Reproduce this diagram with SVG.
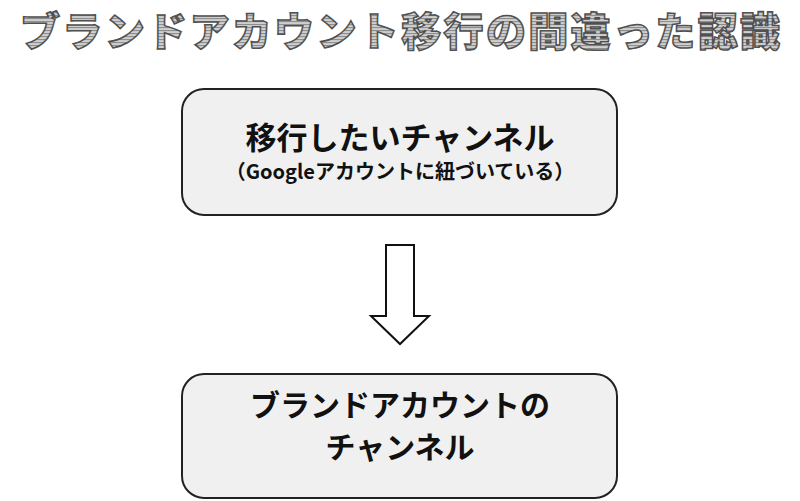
<svg xmlns="http://www.w3.org/2000/svg" width="800" height="501" viewBox="0 0 800 501">
<defs>
<pattern id="stripes" width="4" height="3" patternUnits="userSpaceOnUse">
<rect width="4" height="3" fill="#cfcfcf"/>
<rect width="4" height="1.1" fill="#8e8e8e"/>
</pattern>
</defs>
<style>
.t{font-family:"Noto Sans CJK JP","Noto Sans",sans-serif;font-weight:bold;text-anchor:middle;fill:#111}
.box{fill:#f0f0f0;stroke:#222;stroke-width:2}
.title{font-family:"Noto Sans CJK JP","Noto Sans",sans-serif;font-weight:900;font-size:40px;text-anchor:middle;fill:url(#stripes);stroke:#505050;stroke-width:1.5}
</style>
<rect width="800" height="501" fill="#ffffff"/>
<g id="title"><text class="title" x="400" y="46" textLength="760" lengthAdjust="spacing">ブランドアカウント移行の間違った認識</text></g>
<g id="node1">
<rect class="box" x="182" y="89" width="435" height="126" rx="22"/>
<text class="t" x="400" y="149" font-size="31">移行したいチャンネル</text>
<text class="t" x="400" y="179" font-size="20">（Googleアカウントに紐づいている）</text>
</g>
<g id="connectors">
<path d="M386,245 H414 V316 H429 L400,344 L371,316 H386 Z" fill="#ffffff" stroke="#111" stroke-width="2" stroke-linejoin="miter"/>
</g>
<g id="node2">
<rect class="box" x="182" y="374" width="435" height="124" rx="22"/>
<text class="t" x="400" y="416" font-size="30">ブランドアカウントの</text>
<text class="t" x="400" y="458" font-size="30">チャンネル</text>
</g>
</svg>
